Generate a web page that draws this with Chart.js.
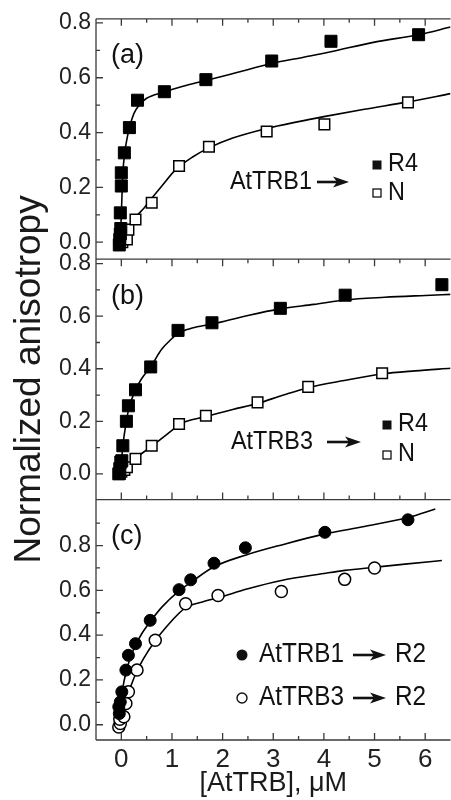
<!DOCTYPE html>
<html>
<head>
<meta charset="utf-8">
<script src="https://cdn.jsdelivr.net/npm/chart.js@4.4.1/dist/chart.umd.min.js"></script>
<style>
  html, body { margin: 0; padding: 0; background: #fff; overflow: hidden; }
  #wrap { width: 451px; height: 800px; overflow: hidden; }
</style>
</head>
<body>
<div id="wrap"><canvas id="chart" width="460" height="800"></canvas></div>
<script>
const FONT = '"Liberation Sans", Arial, Helvetica, sans-serif';

// axis ticks
const xTicks = [0, 1, 2, 3, 4, 5, 6];
const xMinorTicks = [0.5, 1.5, 2.5, 3.5, 4.5, 5.5];
const yTicksAB = [0, 0.2, 0.4, 0.6, 0.8];
const yMinorAB = [0.1, 0.3, 0.5, 0.7];
const yTicksC = [0, 0.2, 0.4, 0.6, 0.8];
const yMinorC = [0.1, 0.3, 0.5, 0.7, 0.9];

// panel (a): AtTRB1 -> R4 / N
const aR4X = [-0.04, -0.03, -0.02, -0.01, -0.02, 0.0, 0.0, 0.06, 0.16, 0.32, 0.85, 1.67, 2.97, 4.14, 5.87];
const aR4Y = [-0.01, 0.01, 0.03, 0.05, 0.107, 0.205, 0.253, 0.326, 0.418, 0.518, 0.549, 0.593, 0.661, 0.733, 0.757];
const aNX = [0.02, 0.11, 0.14, 0.28, 0.6, 1.14, 1.73, 2.87, 4.01, 5.66];
const aNY = [0.0, 0.01, 0.046, 0.083, 0.144, 0.278, 0.348, 0.404, 0.43, 0.51];
const aR4FitX = [-0.02, 0.0, 0.03, 0.07, 0.12, 0.17, 0.25, 0.35, 0.5, 0.83, 1.2, 1.67, 2.3, 2.97, 3.6, 4.14, 5.0, 5.87, 6.5];
const aR4FitY = [0.0, 0.1, 0.25, 0.33, 0.385, 0.425, 0.47, 0.5, 0.525, 0.547, 0.568, 0.59, 0.62, 0.652, 0.675, 0.695, 0.73, 0.757, 0.785];
const aNFitX = [0.05, 0.14, 0.28, 0.45, 0.6, 0.8, 1.06, 1.4, 1.74, 2.2, 2.87, 3.5, 4.0, 4.8, 5.66, 6.5];
const aNFitY = [0.0, 0.045, 0.09, 0.125, 0.16, 0.205, 0.262, 0.31, 0.345, 0.38, 0.415, 0.44, 0.458, 0.485, 0.512, 0.542];

// panel (b): AtTRB3 -> R4 / N
const bR4X = [-0.05, -0.03, -0.01, 0.01, 0.03, 0.1, 0.14, 0.28, 0.58, 1.12, 1.79, 3.14, 4.42, 6.33];
const bR4Y = [0.0, 0.02, 0.045, 0.05, 0.107, 0.2, 0.259, 0.32, 0.407, 0.546, 0.575, 0.63, 0.68, 0.72];
const bNX = [-0.03, 0.0, 0.06, 0.11, 0.28, 0.6, 1.14, 1.67, 2.69, 3.69, 5.15];
const bNY = [0.0, 0.008, 0.015, 0.025, 0.057, 0.107, 0.19, 0.221, 0.272, 0.331, 0.383];
const bR4FitX = [-0.03, 0.0, 0.03, 0.1, 0.15, 0.28, 0.4, 0.58, 0.8, 1.0, 1.12, 1.4, 1.79, 2.5, 3.14, 3.8, 4.42, 5.2, 6.0, 6.5];
const bR4FitY = [0.0, 0.04, 0.107, 0.2, 0.25, 0.32, 0.362, 0.408, 0.475, 0.515, 0.535, 0.555, 0.57, 0.603, 0.628, 0.645, 0.662, 0.672, 0.679, 0.683];
const bNFitX = [0.05, 0.11, 0.28, 0.6, 1.06, 1.14, 1.67, 2.2, 2.69, 3.2, 3.69, 4.4, 5.15, 5.8, 6.5];
const bNFitY = [0.005, 0.022, 0.058, 0.105, 0.175, 0.188, 0.218, 0.245, 0.268, 0.3, 0.328, 0.355, 0.38, 0.392, 0.402];

// panel (c): AtTRB1 -> R2 (filled), AtTRB3 -> R2 (open)
const cT1X = [-0.04, -0.05, -0.02, 0.01, 0.09, 0.14, 0.28, 0.57, 1.14, 1.37, 1.83, 2.45, 4.02, 5.66];
const cT1Y = [0.05, 0.08, 0.102, 0.147, 0.244, 0.31, 0.362, 0.466, 0.603, 0.647, 0.721, 0.79, 0.859, 0.915];
const cT3X = [-0.05, -0.02, -0.03, 0.05, 0.09, 0.14, 0.31, 0.67, 1.27, 1.91, 3.16, 4.41, 5.0];
const cT3Y = [-0.01, 0.006, 0.025, 0.036, 0.095, 0.147, 0.244, 0.377, 0.54, 0.577, 0.595, 0.649, 0.70];
const cT1FitX = [-0.04, 0.0, 0.05, 0.1, 0.17, 0.28, 0.4, 0.57, 0.8, 1.14, 1.37, 1.83, 2.45, 3.2, 4.02, 4.8, 5.66, 6.2];
const cT1FitY = [0.05, 0.12, 0.19, 0.24, 0.295, 0.355, 0.405, 0.46, 0.525, 0.598, 0.635, 0.705, 0.757, 0.805, 0.852, 0.885, 0.925, 0.963];
const cT3FitX = [0.05, 0.09, 0.14, 0.2, 0.31, 0.45, 0.67, 0.9, 1.27, 1.6, 1.91, 2.5, 3.16, 4.0, 4.41, 5.0, 5.6, 6.33];
const cT3FitY = [0.036, 0.09, 0.14, 0.18, 0.24, 0.3, 0.375, 0.44, 0.523, 0.548, 0.567, 0.607, 0.644, 0.675, 0.689, 0.703, 0.717, 0.733];

// text
const panelTags = ['(a)', '(b)', '(c)'];
const yTitle = 'Normalized anisotropy';
const xTitle = '[AtTRB], \u03bcM';

const pts = (xs, ys) => xs.map((x, i) => ({ x, y: ys[i] }));

function markers(label, xs, ys, axis, style, filled, radius) {
  return {
    type: 'scatter',
    label,
    data: pts(xs, ys),
    xAxisID: 'x',
    yAxisID: axis,
    pointStyle: style,
    pointRadius: radius,
    pointHoverRadius: radius,
    backgroundColor: filled ? '#000' : '#fff',
    borderColor: '#000',
    borderWidth: filled ? 1 : 1.5,
    showLine: false,
    order: 0
  };
}

function fitLine(label, xs, ys, axis) {
  return {
    type: 'line',
    label,
    data: pts(xs, ys),
    xAxisID: 'x',
    yAxisID: axis,
    borderColor: '#000',
    borderWidth: 1.6,
    pointRadius: 0,
    cubicInterpolationMode: 'monotone',
    fill: false,
    order: 1
  };
}

function panelScale(min, max, weight, ticks) {
  return {
    type: 'linear',
    axis: 'y',
    position: 'left',
    stack: 'panels',
    stackWeight: 1,
    weight,
    min,
    max,
    afterBuildTicks: s => { s.ticks = ticks.map(v => ({ value: v })); },
    afterFit: s => { s.width = 96; },
    ticks: {
      font: { family: FONT, size: 23 },
      color: '#222',
      padding: 5,
      autoSkip: false,
      callback: v => Number(v).toFixed(1)
    },
    grid: { display: false, drawTicks: false },
    border: { display: false }
  };
}

const scaleB = panelScale(-0.098, 0.817, 2, yTicksAB);
scaleB.title = {
  display: true,
  text: yTitle,
  font: { family: FONT, size: 37 },
  color: '#1a1a1a',
  padding: { top: 8, bottom: 0 }
};

// frame, inward ticks, panel tags and legends
const panelDecor = {
  id: 'panelDecor',
  afterDatasetsDraw(chart) {
    const { ctx, chartArea } = chart;
    const xs = chart.scales.x;
    const ya = chart.scales.ya, yb = chart.scales.yb, yc = chart.scales.yc;
    const left = chartArea.left, right = chartArea.right;

    ctx.save();
    ctx.strokeStyle = '#3a3a3a';
    ctx.lineWidth = 1.3;
    ctx.beginPath();
    ctx.moveTo(left, chartArea.top);
    ctx.lineTo(left, chartArea.bottom);
    [ya.top, yb.top, yc.top, chartArea.bottom].forEach(y => {
      ctx.moveTo(left, y);
      ctx.lineTo(right, y);
    });

    // x ticks: top of (a), top of (b) pointing down; bottom of (b), bottom of (c) pointing up
    [[ya.top, 1], [yb.top, 1], [yb.bottom, -1], [yc.bottom, -1]].forEach(([y, dir]) => {
      xTicks.forEach(v => {
        const px = xs.getPixelForValue(v);
        ctx.moveTo(px, y);
        ctx.lineTo(px, y + dir * 7);
      });
      xMinorTicks.forEach(v => {
        const px = xs.getPixelForValue(v);
        ctx.moveTo(px, y);
        ctx.lineTo(px, y + dir * 4);
      });
    });

    // y ticks, inward on the left
    [[ya, yTicksAB, yMinorAB], [yb, yTicksAB, yMinorAB], [yc, yTicksC, yMinorC]].forEach(([s, major, minor]) => {
      major.forEach(v => {
        const py = s.getPixelForValue(v);
        ctx.moveTo(left, py);
        ctx.lineTo(left + 7, py);
      });
      minor.forEach(v => {
        const py = s.getPixelForValue(v);
        ctx.moveTo(left, py);
        ctx.lineTo(left + 4, py);
      });
    });
    ctx.stroke();

    // panel tags
    ctx.fillStyle = '#111';
    ctx.textBaseline = 'middle';
    ctx.textAlign = 'left';
    ctx.font = '27px ' + FONT;
    [ya, yb, yc].forEach((s, i) => ctx.fillText(panelTags[i], 111, s.top + 37));

    // slightly condensed legend text, as in the original figure
    const label = (text, x, y, size) => {
      ctx.save();
      ctx.font = size + 'px ' + FONT;
      ctx.translate(x, y);
      ctx.scale(0.9, 1);
      ctx.fillText(text, 0, 0);
      ctx.restore();
    };
    const arrow = (x1, x2, y) => {
      ctx.beginPath();
      ctx.lineWidth = 2.6;
      ctx.strokeStyle = '#111';
      ctx.moveTo(x1, y);
      ctx.lineTo(x2 - 8, y);
      ctx.stroke();
      ctx.beginPath();
      ctx.moveTo(x2, y);
      ctx.lineTo(x2 - 16, y - 5.5);
      ctx.lineTo(x2 - 12, y);
      ctx.lineTo(x2 - 16, y + 5.5);
      ctx.closePath();
      ctx.fill();
    };
    const square = (cx, cy, filled) => {
      ctx.lineWidth = 1.3;
      if (filled) {
        ctx.fillRect(cx - 4.5, cy - 4.5, 9, 9);
      } else {
        ctx.fillStyle = '#fff';
        ctx.fillRect(cx - 4, cy - 4, 8, 8);
        ctx.fillStyle = '#111';
        ctx.strokeRect(cx - 4, cy - 4, 8, 8);
      }
    };
    const circle = (cx, cy, filled) => {
      ctx.beginPath();
      ctx.arc(cx, cy, filled ? 5.5 : 5, 0, Math.PI * 2);
      if (filled) {
        ctx.fill();
      } else {
        ctx.lineWidth = 1.4;
        ctx.fillStyle = '#fff';
        ctx.fill();
        ctx.fillStyle = '#111';
        ctx.stroke();
      }
    };

    // legend (a)
    label('AtTRB1', 230, 182, 26);
    arrow(317, 349, 182);
    square(377, 165, true);
    square(377, 193, false);
    label('R4', 388, 164, 26);
    label('N', 388, 193, 26);

    // legend (b)
    label('AtTRB3', 231, 442, 26);
    arrow(327, 361, 442);
    square(387, 425, true);
    square(387, 455, false);
    label('R4', 398, 424, 26);
    label('N', 398, 454, 26);

    // legend (c)
    [[655, true, 'AtTRB1'], [698, false, 'AtTRB3']].forEach(([y, filled, name]) => {
      circle(242, y, filled);
      label(name, 259, y, 27);
      arrow(353, 386, y);
      label('R2', 395, y, 27);
    });
    ctx.restore();
  }
};

new Chart(document.getElementById('chart'), {
  type: 'scatter',
  data: {
    datasets: [
      fitLine('a R4 fit', aR4FitX, aR4FitY, 'ya'),
      fitLine('a N fit', aNFitX, aNFitY, 'ya'),
      markers('AtTRB1 R4', aR4X, aR4Y, 'ya', 'rect', true, 8.5),
      markers('AtTRB1 N', aNX, aNY, 'ya', 'rect', false, 7.5),
      fitLine('b R4 fit', bR4FitX, bR4FitY, 'yb'),
      fitLine('b N fit', bNFitX, bNFitY, 'yb'),
      markers('AtTRB3 R4', bR4X, bR4Y, 'yb', 'rect', true, 8.5),
      markers('AtTRB3 N', bNX, bNY, 'yb', 'rect', false, 7.5),
      fitLine('c T1 fit', cT1FitX, cT1FitY, 'yc'),
      fitLine('c T3 fit', cT3FitX, cT3FitY, 'yc'),
      markers('AtTRB1 R2', cT1X, cT1Y, 'yc', 'circle', true, 6),
      markers('AtTRB3 R2', cT3X, cT3Y, 'yc', 'circle', false, 6)
    ]
  },
  options: {
    responsive: false,
    animation: false,
    layout: { padding: { top: 18, right: 8, left: 0, bottom: 0 } },
    plugins: { legend: { display: false }, tooltip: { enabled: false } },
    scales: {
      x: {
        type: 'linear',
        position: 'bottom',
        min: -0.5,
        max: 6.5,
        afterBuildTicks: s => { s.ticks = xTicks.map(v => ({ value: v })); },
        afterFit: s => { s.height = 60; },
        ticks: {
          font: { family: FONT, size: 26 },
          color: '#222',
          padding: 4,
          autoSkip: false,
          maxRotation: 0
        },
        grid: { display: false, drawTicks: false },
        border: { display: false },
        title: {
          display: true,
          text: xTitle,
          font: { family: FONT, size: 27 },
          color: '#1a1a1a',
          padding: { top: 0, bottom: 0 }
        }
      },
      ya: panelScale(-0.062, 0.815, 3, yTicksAB),
      yb: scaleB,
      yc: panelScale(-0.068, 1.005, 1, yTicksC)
    }
  },
  plugins: [panelDecor]
});
</script>
</body>
</html>
